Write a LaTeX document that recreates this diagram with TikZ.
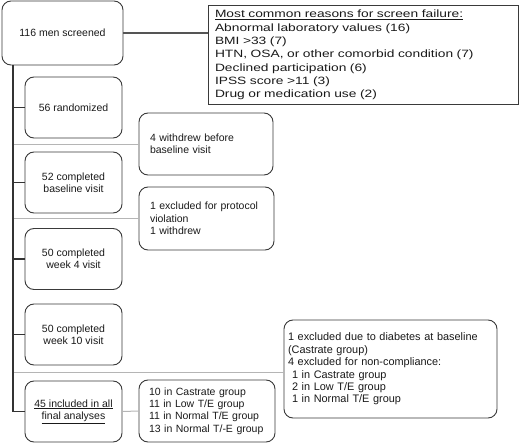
\documentclass[tikz,border=0pt]{standalone}
\usepackage{fontspec}
\setmainfont{Liberation Sans}
\newfontfamily\widesans[FakeStretch=1.3]{Liberation Sans}
\definecolor{boxc}{HTML}{3A3A3A}
\definecolor{spinec}{HTML}{333333}
\definecolor{branchc}{HTML}{B5B5B5}
\definecolor{thickc}{HTML}{555555}
\begin{document}
\begin{tikzpicture}[x=1pt,y=-1pt,
  every node/.style={font=\fontsize{10.5}{12.3}\selectfont, text=black!90},
  rbox/.style={draw=boxc, line width=0.9pt, rounded corners=9pt, inner sep=0pt},
  lbox/.style={rbox, minimum width=97pt, minimum height=61pt, align=center},
  exbox/.style={rbox, align=left, minimum height=62pt},
  spine/.style={draw=spinec, line width=1.1pt},
  branch/.style={draw=branchc, line width=1pt},
  thickline/.style={draw=thickc, line width=2.6pt}]
\useasboundingbox (0,0) rectangle (520,444);
% main column
\node[rbox, minimum width=121pt, minimum height=64pt, align=center] (screen) at (62.5,33) {116 men screened};
\node[draw=boxc, line width=0.9pt, inner xsep=7pt, inner ysep=0pt, text width=296pt, minimum height=99pt, align=left,
  font=\widesans\fontsize{10.6}{13.3}\selectfont] (reasons) at (363,55)
  {\underline{Most common reasons for screen failure:}\\
   Abnormal laboratory values (16)\\
   BMI >33 (7)\\
   HTN, OSA, or other comorbid condition (7)\\
   Declined participation (6)\\
   IPSS score >11 (3)\\
   Drug or medication use (2)};
\node[lbox] (rand) at (73.5,107.5) {56 randomized};
\node[lbox] (base) at (73.5,182.5) {52 completed\\baseline visit};
\node[lbox] (wk4) at (73.5,259) {50 completed\\week 4 visit};
\node[lbox] (wk10) at (73.5,334.5) {50 completed\\week 10 visit};
\node[lbox] (final) at (73.5,411.5) {\underline{45 included in all}\\\underline{final analyses}};
% exclusion boxes
\node[exbox, inner xsep=11pt, text width=112pt] (withdrew) at (206,144) {4 withdrew before\\baseline visit};
\node[exbox, inner xsep=11pt, text width=113pt, minimum height=63pt] (protocol) at (206.5,218.5) {1 excluded for protocol\\violation\\1 withdrew};
\node[exbox, inner xsep=4pt, text width=205pt, minimum height=98pt, font=\fontsize{10.9}{12.4}\selectfont] (diab) at (390.5,369)
  {1 excluded due to diabetes at baseline\\
   (Castrate group)\\
   4 excluded for non-compliance:\\
   \hspace*{4pt}1 in Castrate group\\
   \hspace*{4pt}2 in Low T/E group\\
   \hspace*{4pt}1 in Normal T/E group};
\node[exbox, inner xsep=10pt, text width=116pt, minimum height=62pt] (groups) at (207,411)
  {10 in Castrate group\\
   11 in Low T/E group\\
   11 in Normal T/E group\\
   13 in Normal T/-E group};
% connectors
\coordinate (top) at (13,65);
\coordinate (bot) at (13,411.5);
\coordinate (b3) at (13,372);
\draw[thickline] (screen.east) -- (screen.east -| reasons.west);
\draw[branch] (top |- withdrew.west) -- (withdrew.west);
\draw[branch] (top |- protocol.west) -- (protocol.west);
\draw[branch] (b3) -- (b3 -| diab.west);
\draw[branch] (final.east) -- (groups.west);
\draw[spine] (top) -- (bot) -- (final.west);
\draw[spine] (top |- rand.west) -- (rand.west);
\draw[spine] (top |- base.west) -- (base.west);
\draw[spine] (top |- wk4.west) -- (wk4.west);
\draw[spine] (top |- wk10.west) -- (wk10.west);
\end{tikzpicture}
\end{document}
